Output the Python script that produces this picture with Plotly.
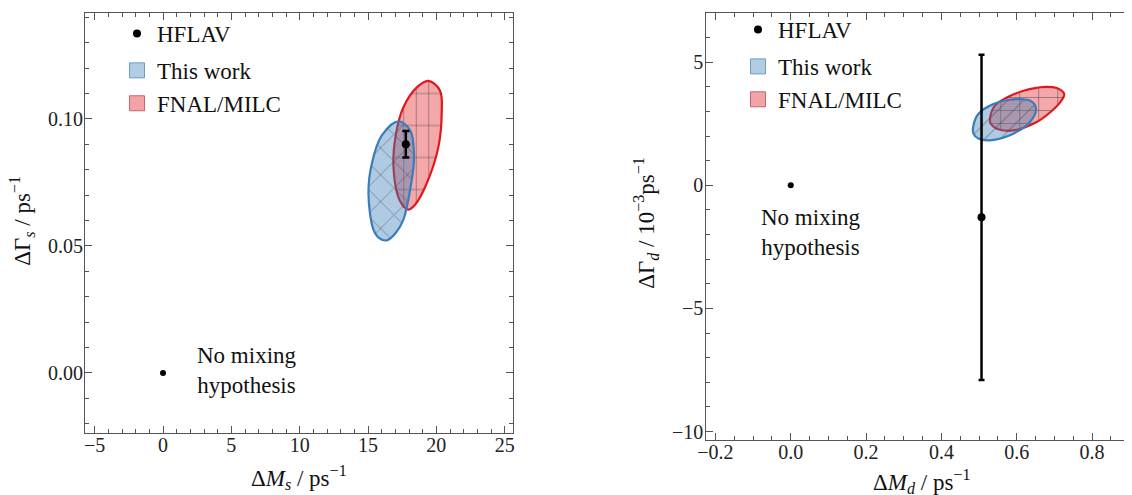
"""B_s / B_d mixing: Delta M vs Delta Gamma, lattice vs HFLAV."""

import plotly.graph_objects as go

# ---- B_s panel ----
bs_hflav_dm = [17.765]
bs_hflav_dg = [0.090]
bs_hflav_err = [0.0052]

bs_this_dm = [17.22, 18.08, 18.37, 18.08, 17.59, 17.04, 16.37, 15.77, 15.39, 15.03, 15.28, 16.01, 17.22]
bs_this_dg = [0.0990, 0.0955, 0.0851, 0.0721, 0.0604, 0.0552, 0.0522, 0.0533, 0.0565, 0.0708, 0.0825, 0.0935, 0.0990]

bs_fnal_dm = [19.42, 20.27, 20.39, 20.15, 19.30, 18.44, 17.95, 17.35, 16.86, 17.05, 17.59, 18.57, 19.42]
bs_fnal_dg = [0.1150, 0.1111, 0.1020, 0.0890, 0.0747, 0.0662, 0.0643, 0.0676, 0.0812, 0.0942, 0.1046, 0.1124, 0.1150]

# ---- B_d panel (Delta Gamma in 1e-3 / ps) ----
bd_hflav_dm = [0.5065]
bd_hflav_dg = [-1.3]
bd_hflav_err = [6.6]

bd_this_dm = [0.600, 0.640, 0.651, 0.635, 0.591, 0.529, 0.498, 0.485, 0.485, 0.498, 0.538, 0.600]
bd_this_dg = [3.50, 3.40, 3.10, 2.57, 2.10, 1.83, 1.90, 2.10, 2.43, 2.90, 3.30, 3.50]

bd_fnal_dm = [0.675, 0.706, 0.726, 0.715, 0.689, 0.653, 0.591, 0.547, 0.531, 0.529, 0.542, 0.574, 0.618, 0.675]
bd_fnal_dg = [4.00, 3.95, 3.71, 3.37, 2.97, 2.57, 2.23, 2.30, 2.50, 2.70, 3.24, 3.57, 3.84, 4.00]

no_mix_dm = [0.0]
no_mix_dg = [0.0]

FONT = "Liberation Serif"
BLUE_LINE = "#3A7DBD"
BLUE_FILL = "rgba(55,126,184,0.40)"
RED_LINE = "#E3171E"
RED_FILL = "rgba(228,26,28,0.38)"
HATCH = "#3c3c3c"

# the page body has an 8px margin, so the figure is 8px smaller than the window
OFF = 8
W, H = 1132 - OFF, 495 - OFF


def px(v):
    return (v - OFF) / W


def py(v):
    return 1 - (v - OFF) / H


def region(x, y, line, fill, pat, xa, ya):
    shape, size, sol = pat
    return go.Scatter(
        x=x, y=y, mode="lines", fill="toself", fillcolor=fill,
        line=dict(color=line, width=2.2, shape="spline", smoothing=1.0),
        fillpattern=dict(shape=shape, size=size, solidity=sol, fgcolor=HATCH,
                         fgopacity=0.45, fillmode="overlay"),
        showlegend=False, hoverinfo="skip", xaxis=xa, yaxis=ya,
    )


def hatch_only(x, y, pat, xa, ya):
    shape, size, sol = pat
    return go.Scatter(
        x=x, y=y, mode="lines", fill="toself", fillcolor="rgba(0,0,0,0)",
        line=dict(width=0, shape="spline", smoothing=1.0),
        fillpattern=dict(shape=shape, size=size, solidity=sol, fgcolor=HATCH,
                         fgopacity=0.45, fillmode="replace"),
        showlegend=False, hoverinfo="skip", xaxis=xa, yaxis=ya,
    )


fig = go.Figure()

panels = [
    ("x", "y", "legend", bs_fnal_dm, bs_fnal_dg, bs_this_dm, bs_this_dg,
     bs_hflav_dm, bs_hflav_dg, bs_hflav_err,
     ("|", 12.5, 0.08), ("-", 32, 0.032), ("x", 19, 0.1), 3.5),
    ("x2", "y2", "legend2", bd_fnal_dm, bd_fnal_dg, bd_this_dm, bd_this_dg,
     bd_hflav_dm, bd_hflav_dg, bd_hflav_err,
     ("|", 19, 0.055), ("-", 13, 0.08), ("/", 11, 0.09), 3),
]

for xa, ya, lg, fx, fy, tx, ty, hx, hy, he, fp1, fp2, tp, cap in panels:
    fig.add_trace(region(fx, fy, RED_LINE, RED_FILL, fp1, xa, ya))
    fig.add_trace(hatch_only(fx, fy, fp2, xa, ya))
    fig.add_trace(region(tx, ty, BLUE_LINE, BLUE_FILL, tp, xa, ya))
    fig.add_trace(go.Scatter(
        x=hx, y=hy, mode="markers", marker=dict(color="black", size=8),
        error_y=dict(type="data", array=he, color="black", thickness=2.5, width=cap),
        name="HFLAV", legend=lg, legendgroup="a", xaxis=xa, yaxis=ya,
    ))
    fig.add_trace(go.Scatter(
        x=no_mix_dm, y=no_mix_dg, mode="markers", marker=dict(color="black", size=6),
        showlegend=False, hoverinfo="skip", xaxis=xa, yaxis=ya,
    ))
    # legend swatches
    fig.add_trace(go.Scatter(
        x=[None], y=[None], mode="markers", name="This work", legend=lg, legendgroup="b",
        marker=dict(symbol="square", size=15, color="#B1CDE3", line=dict(color="#6E9CC3", width=1)),
        xaxis=xa, yaxis=ya,
    ))
    fig.add_trace(go.Scatter(
        x=[None], y=[None], mode="markers", name="FNAL/MILC", legend=lg, legendgroup="b",
        marker=dict(symbol="square", size=15, color="#F3A3A6", line=dict(color="#C7646C", width=1)),
        xaxis=xa, yaxis=ya,
    ))

axis_common = dict(
    showline=True, linecolor="#555", linewidth=1, ticks="inside", ticklen=7,
    tickcolor="#555", tickwidth=1, showgrid=False, zeroline=False, automargin=False,
    tickfont=dict(family=FONT, size=20, color="#222"),
    minor=dict(ticks="inside", ticklen=4, tickcolor="#555", showgrid=False),
)

leg = dict(xanchor="left", yanchor="top", bgcolor="rgba(0,0,0,0)",
           font=dict(family=FONT, size=23, color="#111"), traceorder="grouped",
           tracegroupgap=4)

fig.update_layout(
    template="none",
    width=W, height=H, plot_bgcolor="white", paper_bgcolor="white",
    margin=dict(l=0, r=0, t=0, b=0, pad=0),
    xaxis=dict(axis_common, domain=[px(85), px(513.3)], range=[-5.71, 25.63],
               dtick=5, minor_dtick=1, mirror="ticks", anchor="y", ticklabelstandoff=-6),
    yaxis=dict(axis_common, domain=[py(432.3), py(8.5)], range=[-0.0236, 0.1415],
               dtick=0.05, tickformat=".2f", minor_dtick=0.01, mirror="ticks", anchor="x",
               ticklabelstandoff=-3),
    xaxis2=dict(axis_common, domain=[px(706.2), 1.0], range=[-0.2244, 0.906],
                dtick=0.2, tickformat=".1f", minor_dtick=0.05, mirror="ticks", anchor="y2",
                ticklabelstandoff=-6),
    yaxis2=dict(axis_common, domain=[py(439.4), 1.0], range=[-10.34, 7.0],
                dtick=5, minor_dtick=1, anchor="x2", ticklabelstandoff=-2),
    legend=dict(leg, x=px(117), y=py(7)),
    legend2=dict(leg, x=px(738), y=py(3)),
    font=dict(family=FONT, color="#111"),
    showlegend=True,
)

txt = dict(family=FONT, size=23, color="#111")
fig.add_annotation(x=6.11, y=0.0009, xref="x", yref="y", text="No mixing<br>hypothesis",
                   showarrow=False, font=txt, align="center")
fig.add_annotation(x=0.054, y=-1.90, xref="x2", yref="y2", text="No mixing<br>hypothesis",
                   showarrow=False, font=txt, align="center")

# axis titles
titles = [
    (299, 477, 0, "Δ<i>M</i><sub><i>s</i></sub> / ps<sup>−1</sup>"),
    (22, 218, -90, "ΔΓ<sub><i>s</i></sub> / ps<sup>−1</sup>"),
    (921, 481, 0, "Δ<i>M</i><sub><i>d</i></sub> / ps<sup>−1</sup>"),
    (646, 220, -90, "ΔΓ<sub><i>d</i></sub> / 10<sup>−3</sup>ps<sup>−1</sup>"),
]
for tx_, ty_, ang, label in titles:
    fig.add_annotation(x=px(tx_), y=py(ty_), xref="paper", yref="paper", showarrow=False,
                       xanchor="center", yanchor="middle", textangle=ang, text=label, font=txt)

fig.write_html("out.html")
